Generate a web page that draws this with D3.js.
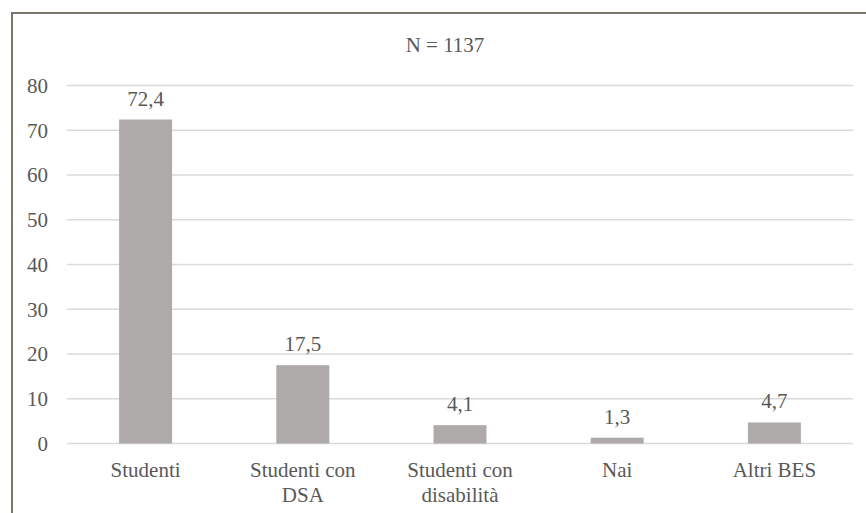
<!DOCTYPE html>
<html><head><meta charset="utf-8">
<script src="https://cdn.jsdelivr.net/npm/d3@7"></script>
</head>
<body style="margin:0;background:#fff">
<svg id="chart" width="866" height="513"></svg>
<script>
const categories = [["Studenti"], ["Studenti con", "DSA"], ["Studenti con", "disabilità"], ["Nai"], ["Altri BES"]];
const values = [72.4, 17.5, 4.1, 1.3, 4.7];
const valueLabels = ["72,4", "17,5", "4,1", "1,3", "4,7"];
const yTicks = [0, 10, 20, 30, 40, 50, 60, 70, 80];
const title = "N = 1137";

const FONT = "Times New Roman";
const FS = 21;
const TXT = "#595959";
const svg = d3.select("#chart");
const mLeft = 67, mRight = 853, mTop = 85.5, mBottom = 443.5;

function styleText(sel) {
  return sel.style("font-family", FONT).attr("font-size", FS).attr("fill", TXT);
}

// chart frame
svg.append("rect").attr("x", 12).attr("y", 13).attr("width", 870).attr("height", 520)
  .attr("fill", "#fff").attr("stroke", "#7a766c").attr("stroke-width", 2);

const x = d3.scaleBand().domain(d3.range(values.length)).range([mLeft, mRight])
  .paddingInner(0.663).paddingOuter(0.3315);
const y = d3.scaleLinear().domain([0, 80]).range([mBottom, mTop]);

// gridlines
svg.append("g").selectAll("line").data(yTicks).join("line")
  .attr("x1", mLeft).attr("x2", mRight)
  .attr("y1", d => y(d)).attr("y2", d => y(d))
  .attr("stroke", "#d9d9d9").attr("stroke-width", 1.5);

// y axis labels
const yAxis = d3.axisLeft(y).tickValues(yTicks).tickSize(0).tickPadding(0);
const yg = svg.append("g").attr("transform", `translate(${mLeft - 19},0)`).call(yAxis);
yg.select(".domain").remove();
yg.attr("font-family", null).attr("font-size", null);
styleText(yg.selectAll("text")).attr("dy", "0.33em");

// bars
svg.append("g").selectAll("rect").data(values).join("rect")
  .attr("x", (d, i) => x(i)).attr("width", x.bandwidth())
  .attr("y", d => y(d)).attr("height", d => y(0) - y(d))
  .attr("fill", "#aeaaaa");

// value labels
styleText(svg.append("g").selectAll("text").data(values).join("text")
  .attr("x", (d, i) => x(i) + x.bandwidth() / 2)
  .attr("y", d => y(d) - 14)
  .attr("text-anchor", "middle"))
  .text((d, i) => valueLabels[i]);

// x labels
const xg = svg.append("g");
categories.forEach((lines, i) => {
  const t = styleText(xg.append("text").attr("x", x(i) + x.bandwidth() / 2).attr("y", 477)
    .attr("text-anchor", "middle"));
  lines.forEach((l, j) => {
    t.append("tspan").attr("x", x(i) + x.bandwidth() / 2).attr("dy", j === 0 ? 0 : 25).text(l);
  });
});

// title
styleText(svg.append("text").attr("x", 445).attr("y", 52).attr("text-anchor", "middle")).text(title);
</script>
</body></html>
